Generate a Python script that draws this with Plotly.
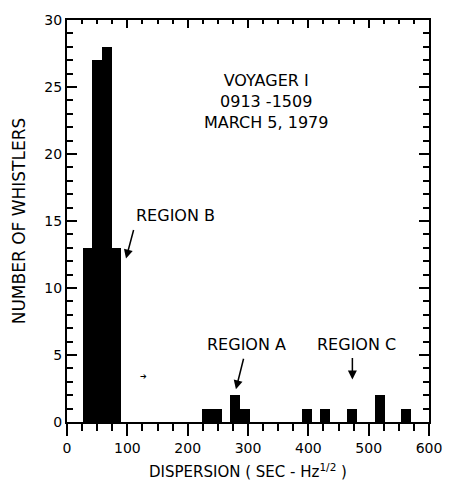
import plotly.graph_objects as go

# Histogram of whistler dispersions (bin centres, counts)
dispersion = [35, 49.5, 65.5, 82, 232, 248.5, 279, 295, 398.5, 427.5, 473, 518.5, 562]
counts = [13, 27, 28, 13, 1, 1, 2, 1, 1, 1, 1, 2, 1]
bar_width = 16.5

x_range = [0, 600]
y_range = [0, 30]

FONT = "DejaVu Sans"

fig = go.Figure()
fig.add_trace(go.Bar(x=dispersion, y=counts, width=bar_width,
                     marker=dict(color="black", line=dict(width=0)),
                     showlegend=False, hoverinfo="skip"))
# helper trace (invisible) so that the top axis with inside ticks is drawn
fig.add_trace(go.Scatter(x=dispersion, y=counts, xaxis="x2", yaxis="y",
                         mode="markers", marker=dict(opacity=0),
                         showlegend=False, hoverinfo="skip"))

fig.update_layout(
    width=454, height=490,
    margin=dict(l=67, r=19, t=13, b=67),
    paper_bgcolor="white", plot_bgcolor="white",
    font=dict(family=FONT, color="black", size=14),
    bargap=0,
    xaxis=dict(range=x_range, tick0=0, dtick=100, ticks="outside", ticklen=12,
               tickwidth=1.8, tickcolor="black",
               minor=dict(dtick=25, tick0=0, ticks="outside", ticklen=7,
                          tickwidth=1.5, tickcolor="black", showgrid=False),
               showline=True, linewidth=2, linecolor="black", mirror=True,
               showgrid=False, zeroline=False,
               tickfont=dict(size=14, family=FONT),
               title=dict(text="DISPERSION ( SEC - Hz<sup>1/2</sup> )",
                          font=dict(size=15, family=FONT), standoff=12)),
    xaxis2=dict(range=x_range, overlaying="x", side="top", anchor="y",
                tick0=0, dtick=100, ticks="inside", ticklen=8, tickwidth=1.8,
                tickcolor="black",
                minor=dict(dtick=25, tick0=0, ticks="inside", ticklen=4,
                           tickwidth=1.5, tickcolor="black", showgrid=False),
                showticklabels=False, showline=False, showgrid=False,
                zeroline=False),
    yaxis=dict(range=y_range, tick0=0, dtick=5, ticks="inside", ticklen=10,
               tickwidth=1.8, tickcolor="black",
               minor=dict(dtick=1, tick0=0, ticks="inside", ticklen=6,
                          tickwidth=1.5, tickcolor="black", showgrid=False),
               showline=True, linewidth=2, linecolor="black", mirror="ticks",
               showgrid=False, zeroline=False,
               tickfont=dict(size=14, family=FONT),
               title=dict(text="NUMBER OF WHISTLERS",
                          font=dict(size=17, family=FONT), standoff=14)),
)

ann_font = dict(family=FONT, size=16, color="black")
fig.add_annotation(x=330, y=23.9, xref="x", yref="y",
                   text="VOYAGER I<br>0913 -1509<br>MARCH 5, 1979",
                   showarrow=False, align="center", font=ann_font)
fig.add_annotation(x=179, y=15.4, text="REGION B", showarrow=False, font=ann_font)
fig.add_annotation(x=297, y=5.8, text="REGION A", showarrow=False, font=ann_font)
fig.add_annotation(x=479, y=5.8, text="REGION C", showarrow=False, font=ann_font)

arrow_style = dict(showarrow=True, arrowhead=2, arrowsize=1.2, arrowwidth=1.5,
                   arrowcolor="black", text="", xref="x", yref="y",
                   axref="pixel", ayref="pixel")
fig.add_annotation(x=97.8, y=12.2, ax=8, ay=-30, **arrow_style)
fig.add_annotation(x=280, y=2.44, ax=8, ay=-32, **arrow_style)
fig.add_annotation(x=473, y=3.17, ax=0, ay=-23, **arrow_style)

fig.add_annotation(x=127, y=3.4, text="➔", showarrow=False,
                   font=dict(family=FONT, size=8, color="black"))

fig.write_html("out.html")
